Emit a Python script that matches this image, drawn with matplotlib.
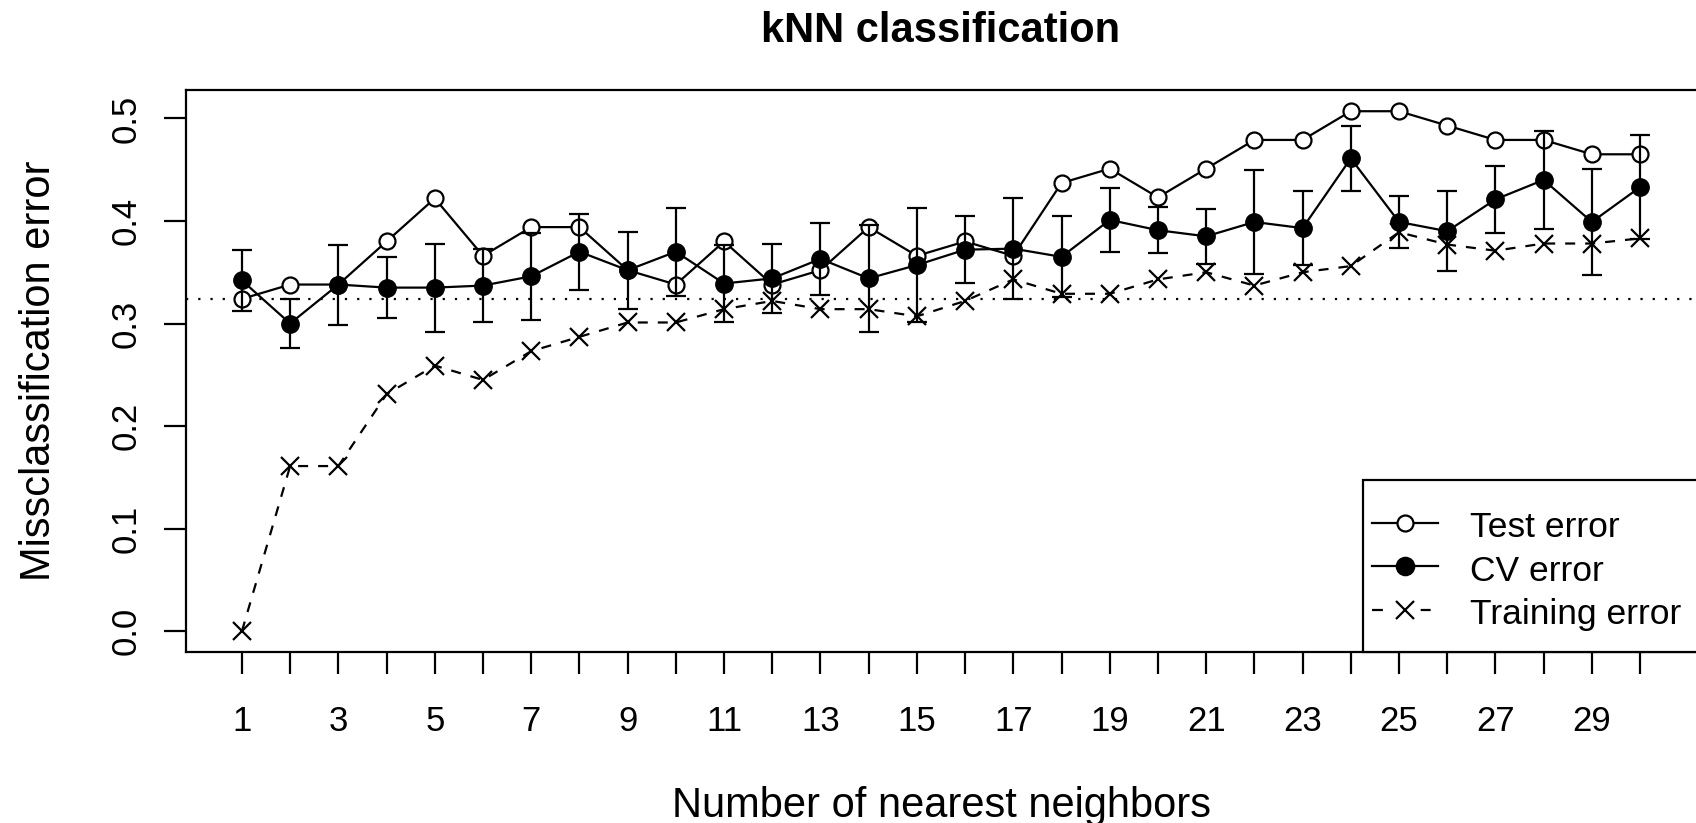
import numpy as np
import matplotlib.pyplot as plt
from matplotlib.patches import Rectangle
from matplotlib.lines import Line2D

plt.rcParams['font.family'] = ['Liberation Sans', 'DejaVu Sans']

# number of neighbours
k = np.arange(1, 31)

# test set error for each k
test_err = [0.324, 0.338, 0.338, 0.380, 0.422, 0.366, 0.394, 0.394, 0.352, 0.338,
            0.380, 0.338, 0.352, 0.394, 0.366, 0.380, 0.366, 0.437, 0.451, 0.423,
            0.451, 0.479, 0.479, 0.507, 0.507, 0.493, 0.479, 0.479, 0.465, 0.465]

# cross-validation error and its standard error
cv_err = [0.342, 0.300, 0.338, 0.335, 0.335, 0.337, 0.346, 0.370, 0.352, 0.370,
          0.339, 0.344, 0.363, 0.344, 0.357, 0.372, 0.373, 0.365, 0.401, 0.391,
          0.385, 0.399, 0.393, 0.461, 0.399, 0.390, 0.421, 0.440, 0.399, 0.433]
cv_se = [0.030, 0.0235, 0.039, 0.0295, 0.043, 0.0355, 0.0425, 0.037, 0.0375, 0.043,
         0.038, 0.034, 0.035, 0.052, 0.056, 0.0325, 0.049, 0.0395, 0.0315, 0.0225,
         0.0265, 0.051, 0.036, 0.0315, 0.0255, 0.039, 0.033, 0.048, 0.052, 0.051]

# training error
train_err = [0.000, 0.161, 0.161, 0.231, 0.259, 0.245, 0.273, 0.287, 0.301, 0.301,
             0.314, 0.322, 0.314, 0.314, 0.307, 0.322, 0.343, 0.329, 0.329, 0.343,
             0.350, 0.337, 0.350, 0.356, 0.389, 0.377, 0.371, 0.378, 0.378, 0.383]

# reference level (dotted line)
base_err = 0.324

yticks = [0.0, 0.1, 0.2, 0.3, 0.4, 0.5]
ytick_labels = ['0.0', '0.1', '0.2', '0.3', '0.4', '0.5']
xtick_labels = [str(i) if i % 2 == 1 else '' for i in k]

legend_labels = ['Test error', 'CV error', 'Training error']

W, H = 1696, 823
fig = plt.figure(figsize=(W / 100, H / 100), dpi=100)
ax = fig.add_axes([186 / W, 1 - 652 / H, 1 - 186 / W, (652 - 90.4) / H])

lw = 1.6
ax.axhline(base_err, color='k', lw=lw, ls=(0, (1, 4.5)), zorder=1)
ax.plot(k, train_err, color='k', lw=lw, ls=(0, (4.5, 4.5)), marker='x', ms=13, mew=lw, zorder=2)
ax.plot(k, test_err, color='k', lw=lw, marker='o', ms=11.5, mfc='white', mew=lw, zorder=3)
ax.errorbar(k, cv_err, yerr=cv_se, fmt='-o', color='k', lw=lw, ms=12.5,
            elinewidth=lw, capsize=7, capthick=lw, zorder=4)

ax.set_xlim(-0.16, 31.16)
ax.set_ylim(-0.0203, 0.5273)
ax.set_xticks(k)
ax.set_xticklabels(xtick_labels)
ax.set_yticks(yticks)
ax.set_yticklabels(ytick_labels, rotation=90, va='center')
ax.tick_params(axis='both', length=15.5, width=lw, labelsize=25)
ax.tick_params(axis='x', pad=23)
ax.tick_params(axis='y', pad=16)
for side in ['left', 'bottom', 'top']:
    ax.spines[side].set_linewidth(lw)
ax.spines['right'].set_visible(False)

ax.set_title('kNN classification', fontsize=30, fontweight='bold', pad=35)
ax.set_xlabel('Number of nearest neighbors', fontsize=30)
ax.xaxis.set_label_coords(0.5, -0.2386)
ax.set_ylabel('Missclassification error', fontsize=30)
ax.yaxis.set_label_coords(-0.0841, 0.5)

# legend box in the lower right corner
fx = lambda x: x / W
fy = lambda y: 1 - y / H
fig.add_artist(Rectangle((fx(1363), fy(652)), 0.3, (652 - 480) / H, transform=fig.transFigure,
                         fc='white', ec='k', lw=lw, zorder=5))
rows = [522.6, 566.3, 609.6]
x0, x1, xm = 1371.7, 1438.3, 1405
handle_styles = [
    dict(ls='-', marker='o', mfc='white', ms=11.5),
    dict(ls='-', marker='o', mfc='k', ms=12.5),
    dict(ls=(0, (4.9, 17, 4.5, 20)), marker='x', mfc='k', ms=13),
]
for y, lab, st in zip(rows, legend_labels, handle_styles):
    fig.add_artist(Line2D([fx(x0), fx(x1)], [fy(y), fy(y)], transform=fig.transFigure,
                          color='k', lw=lw, ls=st['ls'], zorder=6))
    fig.add_artist(Line2D([fx(xm)], [fy(y)], transform=fig.transFigure, color='k', ls='none',
                          marker=st['marker'], mfc=st['mfc'], ms=st['ms'], mew=lw, zorder=7))
    fig.text(fx(1470), fy(y + 14.8), lab, fontsize=25.5, va='baseline', ha='left', zorder=7)

fig.savefig('out.png', dpi=100)
